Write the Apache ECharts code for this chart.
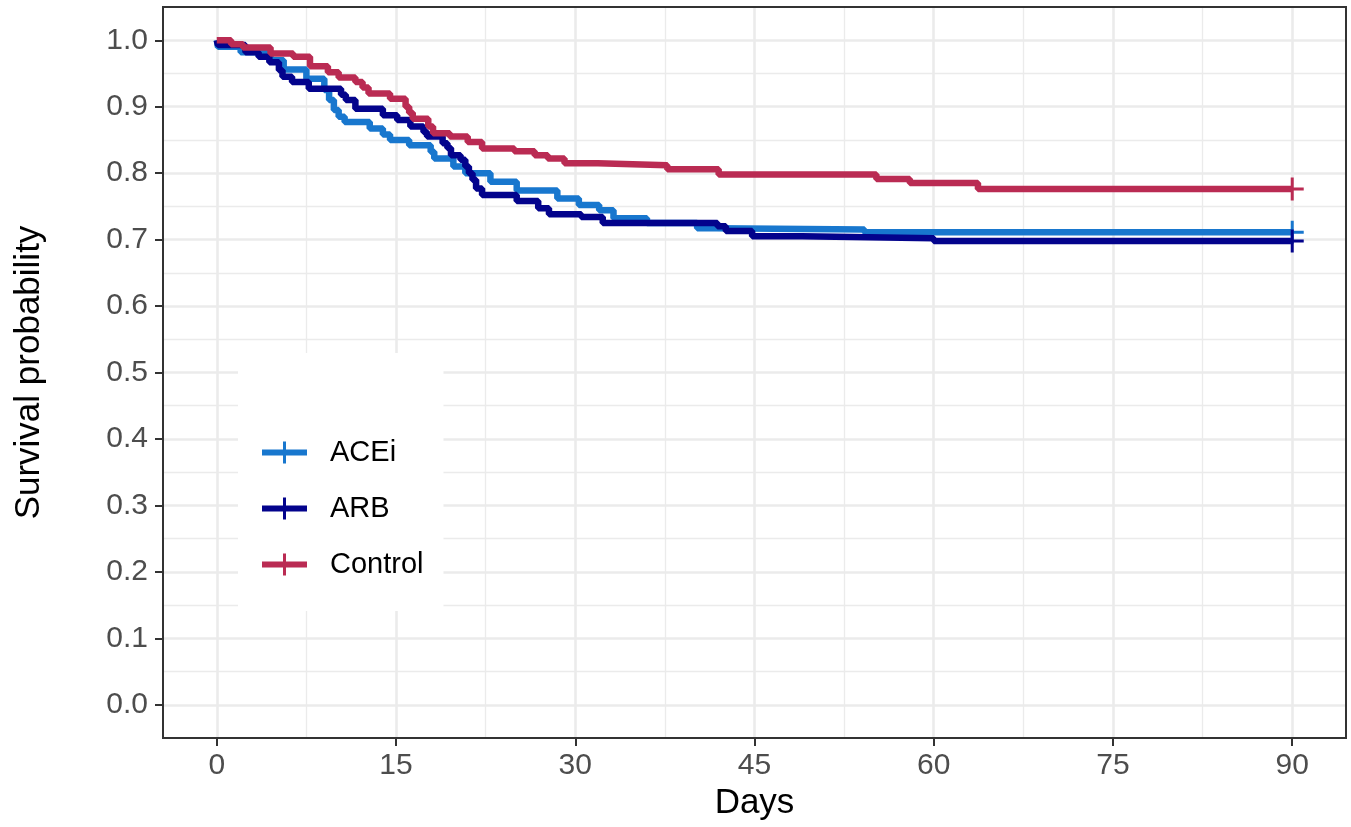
<!DOCTYPE html>
<html>
<head>
<meta charset="utf-8">
<script src="https://cdn.jsdelivr.net/npm/echarts@6/dist/echarts.min.js"></script>
<style>
  html, body { margin: 0; padding: 0; background: #fff; }
  #chart { width: 1351px; height: 827px; }
</style>
</head>
<body>
<div id="chart"></div>
<script>
// Kaplan-Meier steps (day of drop, survival after drop)
const groups = ['ACEi', 'ARB', 'Control']
const colors = ['#1877CE', '#03038C', '#BA2B53']

const aceiDays = [0, 0.1, 2, 4.5, 5.6, 7.5, 9.0, 9.4, 9.8, 10.2, 10.7, 12.8, 13.9, 14.5, 16.1, 17.9, 18.2, 19.8, 20.8, 22.9, 25.1, 28.5, 30.3, 32, 33.2, 36, 40.2, 41.8, 54.2, 90]
const aceiSurv = [1, 0.99, 0.982, 0.97, 0.956, 0.942, 0.925, 0.91, 0.895, 0.885, 0.877, 0.867, 0.858, 0.85, 0.842, 0.832, 0.822, 0.81, 0.8, 0.787, 0.774, 0.762, 0.752, 0.744, 0.732, 0.725, 0.717, 0.715, 0.711, 0.711]

const arbDays = [0, 0.1, 2.4, 3.5, 4.4, 5.2, 5.5, 6.3, 7.7, 10.4, 10.8, 11.6, 13.9, 15.1, 16.2, 17.3, 17.6, 18.9, 19.3, 19.6, 20.4, 20.8, 21.1, 21.4, 21.7, 22.2, 25.1, 26.9, 27.8, 30.5, 32.3, 41.9, 42.6, 44.8, 49, 60, 90]
const arbSurv = [1, 0.993, 0.982, 0.975, 0.967, 0.955, 0.945, 0.937, 0.927, 0.918, 0.91, 0.897, 0.887, 0.88, 0.87, 0.862, 0.855, 0.845, 0.838, 0.827, 0.82, 0.81, 0.8, 0.79, 0.777, 0.767, 0.758, 0.747, 0.738, 0.734, 0.725, 0.72, 0.713, 0.705, 0.702, 0.698, 0.698]

const ctrlDays = [0, 1.2, 2.2, 4.5, 6.4, 7.8, 9.3, 10.2, 11.6, 12.2, 12.7, 14.5, 15.8, 16.1, 16.4, 17.7, 18.1, 19.5, 21, 22.2, 24.9, 26.6, 27.7, 29.1, 31.9, 37.7, 42, 55.2, 58, 63.7, 90]
const ctrlSurv = [1, 0.994, 0.989, 0.98, 0.975, 0.961, 0.952, 0.944, 0.937, 0.929, 0.92, 0.912, 0.9, 0.891, 0.882, 0.87, 0.86, 0.855, 0.847, 0.837, 0.833, 0.827, 0.822, 0.815, 0.812, 0.806, 0.798, 0.791, 0.785, 0.776, 0.776]

const xTicks = [0, 15, 30, 45, 60, 75, 90]
const yTicks = [0, 0.1, 0.2, 0.3, 0.4, 0.5, 0.6, 0.7, 0.8, 0.9, 1.0]

const plusMark = 'path://M10,0h3v23h-3z M0,10h23v3h-23z'
const legendIcon = 'path://M0,8h45v6h-45z M21,0h3v22h-3z'

function toSteps(days, surv) {
  return days.map(function (d, i) {
    if (i === days.length - 1) {
      // censor mark at the end of follow-up
      return { value: [d, surv[i]], symbol: plusMark, symbolSize: 23, itemStyle: { borderWidth: 0 } }
    }
    return [d, surv[i]]
  })
}

const stepData = [toSteps(aceiDays, aceiSurv), toSteps(arbDays, arbSurv), toSteps(ctrlDays, ctrlSurv)]

const chart = echarts.init(document.getElementById('chart'))

const gridLine = { color: '#EBEBEB', width: 2.6 }
const minorLine = { color: '#EBEBEB', width: 1.3 }
const tickStyle = { show: true, length: 8, inside: false, lineStyle: { color: '#333', width: 2 } }
const labelFont = { fontFamily: 'Liberation Sans', fontSize: 30, color: '#4D4D4D' }

chart.setOption({
  animation: false,
  backgroundColor: '#fff',
  textStyle: { fontFamily: 'Liberation Sans' },
  grid: [
    // panel (data lives here, range expanded like ggplot)
    { left: 163, right: 5, top: 7, bottom: 89, show: true, borderColor: '#333', borderWidth: 2, backgroundColor: 'transparent', z: 1 },
    // x ticks / vertical grid lines, 0..90
    { left: 216.8, right: 58.8, top: 7, bottom: 89 },
    // y ticks / horizontal grid lines, 0..1
    { left: 163, right: 5, top: 40.25, bottom: 122.25 }
  ],
  xAxis: [
    { gridIndex: 0, type: 'value', min: -4.5, max: 94.5, show: false },
    {
      gridIndex: 1, type: 'value', min: xTicks[0], max: xTicks[xTicks.length - 1], interval: 15,
      axisLine: { show: false },
      axisTick: tickStyle,
      axisLabel: Object.assign({ margin: 13 }, labelFont),
      splitLine: { show: true, lineStyle: gridLine },
      minorTick: { show: false, splitNumber: 2 },
      minorSplitLine: { show: true, lineStyle: minorLine },
      name: 'Days', nameLocation: 'middle', nameGap: 48,
      nameTextStyle: { fontFamily: 'Liberation Sans', fontSize: 35, color: '#000' }
    },
    { gridIndex: 2, type: 'value', min: 0, max: 1, show: false }
  ],
  yAxis: [
    { gridIndex: 0, type: 'value', min: -0.05, max: 1.05, show: false },
    { gridIndex: 1, type: 'value', min: 0, max: 1, show: false },
    {
      gridIndex: 2, type: 'value', min: yTicks[0], max: yTicks[yTicks.length - 1], interval: 0.1,
      axisLine: { show: false },
      axisTick: tickStyle,
      axisLabel: Object.assign({ margin: 15, formatter: function (v) { return v.toFixed(1) } }, labelFont),
      splitLine: { show: true, lineStyle: gridLine },
      minorTick: { show: false, splitNumber: 2 },
      minorSplitLine: { show: true, lineStyle: minorLine },
      name: 'Survival probability', nameLocation: 'middle', nameGap: 116,
      nameTextStyle: { fontFamily: 'Liberation Sans', fontSize: 35, color: '#000' }
    }
  ],
  legend: {
    orient: 'vertical',
    left: 238,
    top: 353,
    data: groups,
    icon: legendIcon,
    itemWidth: 45,
    itemHeight: 22,
    itemGap: 27,
    padding: [85, 20, 32, 24],
    backgroundColor: '#fff',
    textStyle: { fontFamily: 'Liberation Sans', fontSize: 29, lineHeight: 28, color: '#000', padding: [0, 0, 0, 18] }
  },
  series: groups.map(function (g, i) {
    return {
      name: g,
      type: 'line',
      xAxisIndex: 0,
      yAxisIndex: 0,
      step: 'end',
      symbol: 'none',
      color: colors[i],
      lineStyle: { color: colors[i], width: 6.5 },
      data: stepData[i]
    }
  })
})
</script>
</body>
</html>
